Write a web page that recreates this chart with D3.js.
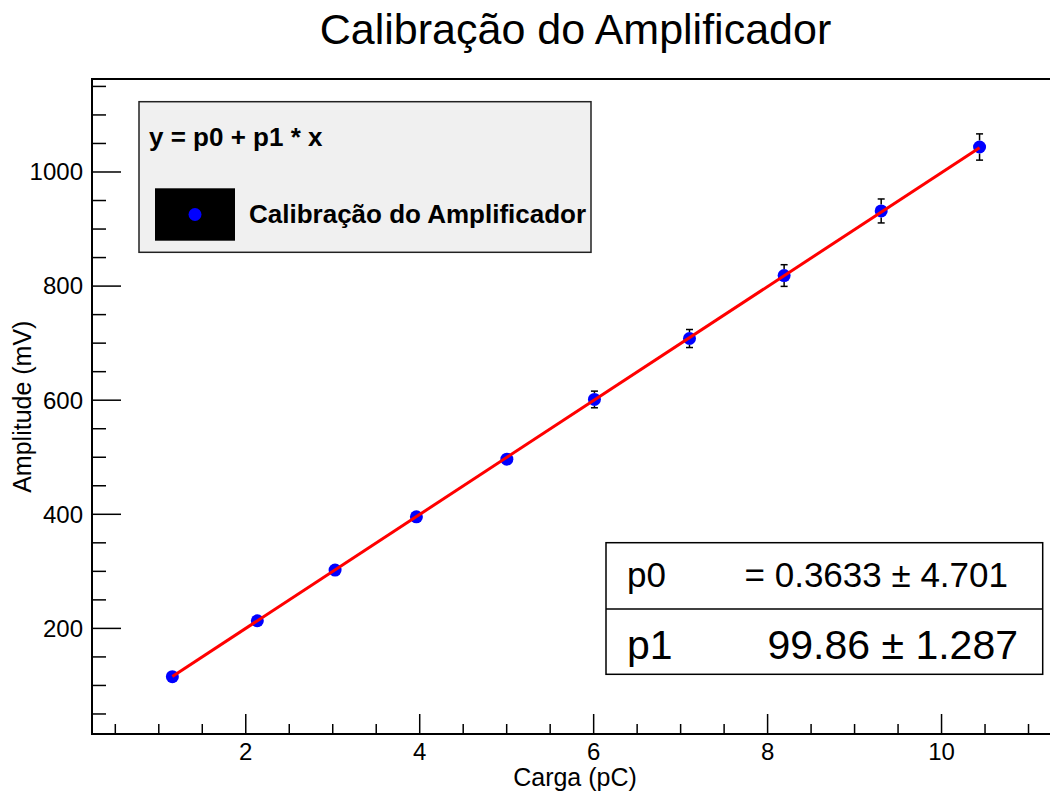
<!DOCTYPE html>
<html><head><meta charset="utf-8">
<script src="https://cdn.jsdelivr.net/npm/d3@7"></script>
<style>body{margin:0;background:#fff}svg{display:block;font-family:"Liberation Sans",Arial,sans-serif}</style>
</head><body><svg id="c" width="1050" height="794"></svg>
<script>
const carga = [1.156, 2.133, 3.027, 3.962, 5.002, 6.009, 7.102, 8.19, 9.306, 10.437];
const amplitude = [115.3, 213.4, 302.2, 395.6, 496.7, 601.3, 708.1, 818.5, 931.7, 1043.8];
const erro = [2.7, 4.9, 6.9, 9.1, 10.5, 14.6, 15.8, 19.0, 21.0, 23.0];
const p0 = 0.3633, p1 = 99.86;
const paramNames = ["p0", "p1"];
const paramTexts = ["= 0.3633 \u00B1 4.701", "99.86 \u00B1 1.287"];
const xTicks = [2, 4, 6, 8, 10];
const yTicks = [200, 400, 600, 800, 1000];
const title = "Calibração do Amplificador";
const xTitle = "Carga (pC)";
const yTitle = "Amplitude (mV)";
const legendFormula = "y = p0 + p1 * x";
const legendLabel = "Calibração do Amplificador";

const svg = d3.select("#c");
const L = 92, R = 1052, T = 79, B = 734;
const x = d3.scaleLinear().domain([0.232, 11.27]).range([L, R]);
const y = d3.scaleLinear().domain([14.9, 1163]).range([B, T]);

// title
svg.append("text").attr("x", 575.5).attr("y", 44).attr("text-anchor", "middle")
  .attr("font-size", 43).text(title);

// frame
svg.append("rect").attr("x", L).attr("y", T).attr("width", R - L).attr("height", B - T)
  .attr("fill", "none").attr("stroke", "#000").attr("stroke-width", 2);

// x axis ticks
const xMinor = d3.range(0.5, 11.01, 0.5);
svg.append("g").selectAll("line").data(xMinor).join("line")
  .attr("x1", d => x(d)).attr("x2", d => x(d))
  .attr("y1", B).attr("y2", d => B - (d % 2 === 0 ? 20 : 10))
  .attr("stroke", "#000").attr("stroke-width", 1.5);
svg.append("g").selectAll("text").data(xTicks).join("text")
  .attr("x", d => x(d)).attr("y", 760).attr("text-anchor", "middle")
  .attr("font-size", 24).text(d => d);

// y axis ticks
const yMinor = d3.range(50, 1151, 50);
svg.append("g").selectAll("line").data(yMinor).join("line")
  .attr("y1", d => y(d)).attr("y2", d => y(d))
  .attr("x1", L).attr("x2", d => L + (d % 200 === 0 ? 29 : 14))
  .attr("stroke", "#000").attr("stroke-width", 1.5);
svg.append("g").selectAll("text").data(yTicks).join("text")
  .attr("x", 83).attr("y", d => y(d)).attr("dy", "0.35em").attr("text-anchor", "end")
  .attr("font-size", 24).text(d => d);

// axis titles
svg.append("text").attr("x", 575).attr("y", 786).attr("text-anchor", "middle")
  .attr("font-size", 25).text(xTitle);
svg.append("text").attr("transform", "translate(31,406.7) rotate(-90)").attr("text-anchor", "middle")
  .attr("font-size", 25).text(yTitle);

// error bars
const r = 6.5;
const pts = carga.map((c, i) => ({x: c, y: amplitude[i], e: erro[i]}));
const eb = svg.append("g").attr("stroke", "#000").attr("stroke-width", 1.5);
pts.forEach(p => {
  const cx = x(p.x), cy = y(p.y), ep = y(p.y - p.e) - cy;
  if (ep > r) {
    eb.append("line").attr("x1", cx).attr("x2", cx).attr("y1", cy - ep).attr("y2", cy - r);
    eb.append("line").attr("x1", cx).attr("x2", cx).attr("y1", cy + r).attr("y2", cy + ep);
    eb.append("line").attr("x1", cx - 3.5).attr("x2", cx + 3.5).attr("y1", cy - ep).attr("y2", cy - ep);
    eb.append("line").attr("x1", cx - 3.5).attr("x2", cx + 3.5).attr("y1", cy + ep).attr("y2", cy + ep);
  }
});

// markers
svg.append("g").selectAll("circle").data(pts).join("circle")
  .attr("cx", d => x(d.x)).attr("cy", d => y(d.y)).attr("r", r).attr("fill", "#0000ff");

// fit line
const xr = d3.extent(carga);
svg.append("path").datum(xr)
  .attr("d", d3.line().x(d => x(d)).y(d => y(p0 + p1 * d)))
  .attr("stroke", "#ff0000").attr("stroke-width", 3).attr("fill", "none");

// legend
const lg = svg.append("g");
lg.append("rect").attr("x", 139).attr("y", 101.7).attr("width", 452).attr("height", 150.6)
  .attr("fill", "#f0f0f0").attr("stroke", "#222").attr("stroke-width", 1.5);
lg.append("text").attr("x", 149).attr("y", 146).attr("font-size", 26).attr("font-weight", "bold").text(legendFormula);
lg.append("rect").attr("x", 155).attr("y", 188.3).attr("width", 80).attr("height", 52.4).attr("fill", "#000");
lg.append("circle").attr("cx", 195).attr("cy", 214.5).attr("r", 6.5).attr("fill", "#0000ff");
lg.append("text").attr("x", 249).attr("y", 223).attr("font-size", 26).attr("font-weight", "bold").text(legendLabel);

// stats box
const sb = svg.append("g");
sb.append("rect").attr("x", 606).attr("y", 542.7).attr("width", 436.7).attr("height", 131.6)
  .attr("fill", "#fff").attr("stroke", "#000").attr("stroke-width", 1.5);
sb.append("line").attr("x1", 606).attr("x2", 1042.7).attr("y1", 609).attr("y2", 609)
  .attr("stroke", "#000").attr("stroke-width", 1.5);
const rowY = [587, 659], rowSize = [35, 41], rowEnd = [1008, 1018];
paramNames.forEach((n, i) => {
  sb.append("text").attr("x", 627).attr("y", rowY[i]).attr("font-size", rowSize[i]).text(n);
  sb.append("text").attr("x", rowEnd[i]).attr("y", rowY[i]).attr("text-anchor", "end")
    .attr("font-size", rowSize[i]).text(paramTexts[i]);
});
</script></body></html>
